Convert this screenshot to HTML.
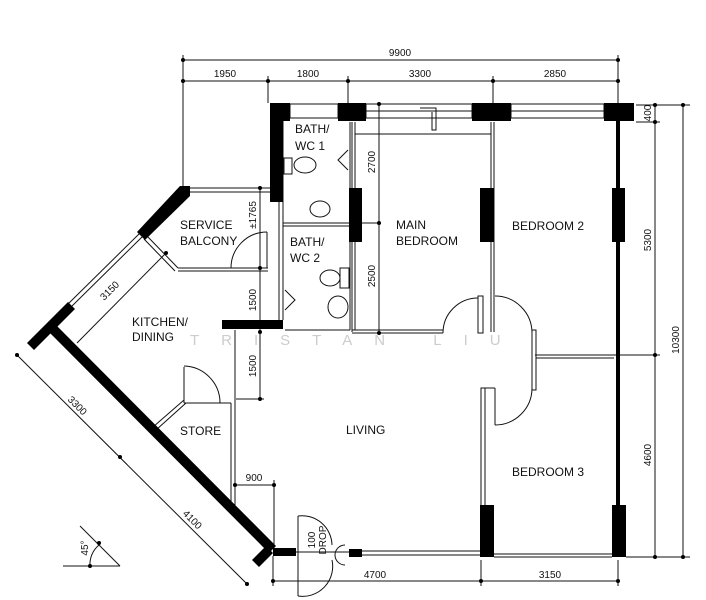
<!DOCTYPE html>
<html><head><meta charset="utf-8"><style>
html,body{margin:0;padding:0;background:#fff;}
svg{display:block;}
text{font-family:"Liberation Sans",sans-serif;fill:#111;}
.l{font-size:12px;}
.d{font-size:10px;}
</style></head><body>
<svg width="706" height="600" viewBox="0 0 706 600" xmlns="http://www.w3.org/2000/svg">
<g stroke="#111" stroke-width="1" fill="none">
<line x1="183" y1="60" x2="618" y2="60"/>
<line x1="183" y1="81" x2="618" y2="81"/>
<line x1="183" y1="55" x2="183" y2="188"/>
<line x1="268" y1="76" x2="268" y2="103"/>
<line x1="348" y1="76" x2="348" y2="103"/>
<line x1="493" y1="76" x2="493" y2="103"/>
<line x1="618" y1="55" x2="618" y2="103"/>
<line x1="655" y1="105" x2="655" y2="557"/>
<line x1="683" y1="105" x2="683" y2="557"/>
<line x1="636" y1="105" x2="690" y2="105"/>
<line x1="636" y1="122" x2="660" y2="122"/>
<line x1="535" y1="355" x2="660" y2="355"/>
<line x1="626" y1="557" x2="690" y2="557"/>
<line x1="273" y1="581" x2="618" y2="581"/>
<line x1="273" y1="556" x2="273" y2="586"/>
<line x1="481" y1="560" x2="481" y2="586"/>
<line x1="618" y1="560" x2="618" y2="586"/>
<line x1="17" y1="355" x2="247" y2="584"/>
<line x1="77" y1="343" x2="166" y2="253"/>
<line x1="260" y1="188" x2="260" y2="399"/>
<line x1="236" y1="399" x2="264" y2="399"/>
<line x1="235" y1="485" x2="274" y2="485"/>
<line x1="274" y1="480" x2="274" y2="556"/>
<line x1="235" y1="330" x2="235" y2="505"/>
<line x1="379" y1="104" x2="379" y2="333"/>
<line x1="362" y1="223" x2="379" y2="223"/>
<rect x="290" y="104" width="48" height="14"/>
<rect x="366" y="104" width="106" height="14"/>
<rect x="511" y="104" width="93" height="14"/>
<line x1="366" y1="111" x2="472" y2="111"/>
<line x1="511" y1="111" x2="604" y2="111"/>
<polyline points="420,108 436,108 436,130 432,130 432,112"/>
<line x1="352" y1="122" x2="352" y2="332"/>
<line x1="355" y1="122" x2="355" y2="330"/>
<line x1="491" y1="122" x2="491" y2="332"/>
<line x1="494" y1="122" x2="494" y2="332"/>
<line x1="355" y1="134" x2="491" y2="134"/>
<line x1="352" y1="330" x2="443" y2="330"/>
<line x1="352" y1="333" x2="443" y2="333"/>
<path d="M443,333 A35,35 0 0 1 478,298"/>
<rect x="478" y="296" width="5" height="37"/>
<path d="M495,296 A37,37 0 0 1 532,333"/>
<rect x="532" y="330" width="4" height="60"/>
<line x1="536" y1="355" x2="614" y2="355"/>
<line x1="536" y1="358" x2="614" y2="358"/>
<rect x="481" y="388" width="4" height="118"/>
<line x1="481" y1="388" x2="495" y2="388"/>
<line x1="495" y1="388" x2="495" y2="425"/>
<path d="M495,425 A37,37 0 0 0 532,388"/>
<line x1="494" y1="554" x2="612" y2="554"/>
<line x1="494" y1="557" x2="612" y2="557"/>
<line x1="353" y1="551" x2="481" y2="551"/>
<line x1="353" y1="555" x2="481" y2="555"/>
<line x1="283" y1="223" x2="350" y2="223"/>
<line x1="283" y1="226" x2="350" y2="226"/>
<line x1="350" y1="122" x2="350" y2="330"/>
<line x1="283" y1="120" x2="283" y2="320"/>
<line x1="279" y1="202" x2="279" y2="320"/>
<line x1="285" y1="330" x2="350" y2="330"/>
<ellipse cx="305" cy="165" rx="11" ry="8"/>
<rect x="284" y="158" width="8" height="16"/>
<ellipse cx="320" cy="209" rx="10" ry="8"/>
<ellipse cx="330" cy="278" rx="10" ry="8"/>
<rect x="340" y="268" width="9" height="20"/>
<ellipse cx="338" cy="307" rx="10" ry="11"/>
<polyline points="348,150 338,160 348,170"/>
<polyline points="285,290 295,300 285,310"/>
<line x1="190" y1="188" x2="270" y2="188"/>
<line x1="190" y1="192" x2="270" y2="192"/>
<line x1="178" y1="268" x2="268" y2="268"/>
<line x1="178" y1="271" x2="268" y2="271"/>
<line x1="147" y1="236" x2="178" y2="268"/>
<line x1="144" y1="239" x2="175" y2="271"/>
<path d="M231,268 A36,36 0 0 1 267,232"/>
<line x1="267" y1="232" x2="267" y2="268"/>
<line x1="140" y1="233" x2="67" y2="305"/>
<line x1="143" y1="236" x2="70" y2="308"/>
<line x1="184" y1="403" x2="231" y2="403"/>
<line x1="231" y1="403" x2="231" y2="505"/>
<line x1="153" y1="427" x2="184" y2="400"/>
<line x1="156" y1="430" x2="186" y2="403"/>
<line x1="184" y1="367" x2="184" y2="403"/>
<path d="M184,366 A37,37 0 0 1 220,403"/>
<path d="M298,516 A30,30 0 0 1 332,545"/>
<path d="M298,596 A30,30 0 0 0 332,560"/>
<line x1="298" y1="516" x2="298" y2="596"/>
<line x1="296" y1="552" x2="349" y2="552"/>
<path d="M345,545 A8,8 0 0 0 345,565"/>
<line x1="63" y1="566" x2="120" y2="566"/>
<line x1="80" y1="526" x2="120" y2="566"/>
<path d="M99,545 A25,25 0 0 0 90,566"/>
</g>
<g fill="#000">
<rect x="270" y="103" width="20" height="18"/>
<rect x="338" y="103" width="28" height="18"/>
<rect x="472" y="103" width="39" height="18"/>
<rect x="604" y="103" width="30" height="18"/>
<rect x="270" y="103" width="13" height="99"/>
<rect x="616" y="121" width="4" height="436"/>
<rect x="612" y="188" width="13" height="54"/>
<rect x="612" y="505" width="14" height="52"/>
<rect x="349" y="188" width="13" height="54"/>
<rect x="480" y="188" width="14" height="54"/>
<rect x="480" y="505" width="14" height="52"/>
<rect x="222" y="320" width="61" height="9"/>
<rect x="273" y="548" width="23" height="8"/>
<rect x="349" y="549" width="13" height="8"/>
<polygon points="180,186 190,186 190,196 145,240 137,232"/>
<polygon points="68,302 75,309 34,350 27,343"/>
<polygon points="47,330 54,323 276,546 269,553"/>
<polygon points="266,546 273,553 259,567 252,560"/>
<g>
<circle cx="183" cy="81" r="2"/><circle cx="268" cy="81" r="2"/><circle cx="348" cy="81" r="2"/><circle cx="493" cy="81" r="2"/><circle cx="618" cy="81" r="2"/><circle cx="183" cy="60" r="2"/><circle cx="618" cy="60" r="2"/>
<circle cx="655" cy="105" r="2"/><circle cx="655" cy="122" r="2"/><circle cx="655" cy="355" r="2"/><circle cx="655" cy="557" r="2"/><circle cx="683" cy="105" r="2"/><circle cx="683" cy="557" r="2"/>
<circle cx="273" cy="581" r="2"/><circle cx="481" cy="581" r="2"/><circle cx="618" cy="581" r="2"/>
<circle cx="260" cy="188" r="2"/><circle cx="260" cy="268" r="2"/><circle cx="260" cy="332" r="2"/><circle cx="260" cy="399" r="2"/>
<circle cx="235" cy="485" r="2"/><circle cx="274" cy="485" r="2"/>
<circle cx="379" cy="104" r="2"/><circle cx="379" cy="223" r="2"/><circle cx="379" cy="333" r="2"/>
<circle cx="17" cy="355" r="2"/><circle cx="120" cy="457" r="2"/><circle cx="247" cy="584" r="2"/>
<circle cx="166" cy="253" r="2"/><circle cx="99" cy="543" r="2"/><circle cx="90" cy="566" r="2"/>
</g>
</g>
<text x="190" y="345" style="font-size:15px;fill:#ccc;letter-spacing:22px">TRISTAN LIU</text>
<g class="l">
<text x="295" y="133">BATH/</text><text x="295" y="150">WC 1</text>
<text x="290" y="246">BATH/</text><text x="290" y="262">WC 2</text>
<text x="180" y="229">SERVICE</text><text x="180" y="245">BALCONY</text>
<text x="396" y="229">MAIN</text><text x="396" y="245">BEDROOM</text>
<text x="512" y="230">BEDROOM 2</text>
<text x="132" y="326">KITCHEN/</text><text x="132" y="341">DINING</text>
<text x="180" y="435">STORE</text>
<text x="346" y="434">LIVING</text>
<text x="512" y="476">BEDROOM 3</text>
</g>
<g class="d" text-anchor="middle">
<text x="400" y="56">9900</text>
<text x="225" y="77">1950</text><text x="308" y="77">1800</text><text x="420" y="77">3300</text><text x="555" y="77">2850</text>
<text x="375" y="578">4700</text><text x="550" y="578">3150</text>
<text x="254" y="481">900</text>
<text transform="translate(651,113) rotate(-90)">400</text>
<text transform="translate(651,240) rotate(-90)">5300</text>
<text transform="translate(679,340) rotate(-90)">10300</text>
<text transform="translate(651,455) rotate(-90)">4600</text>
<text transform="translate(375,162) rotate(-90)">2700</text>
<text transform="translate(375,276) rotate(-90)">2500</text>
<text transform="translate(256,215) rotate(-90)">±1765</text>
<text transform="translate(256,300) rotate(-90)">1500</text>
<text transform="translate(256,366) rotate(-90)">1500</text>
<text transform="translate(75,408) rotate(45)">3300</text>
<text transform="translate(190,522) rotate(45)">4100</text>
<text transform="translate(112,293) rotate(-45)">3150</text>
<text transform="translate(88,548) rotate(-90)">45°</text>
<text transform="translate(315,540) rotate(-90)">100</text>
<text transform="translate(326,540) rotate(-90)">DROP</text>
</g>
</svg>
</body></html>
